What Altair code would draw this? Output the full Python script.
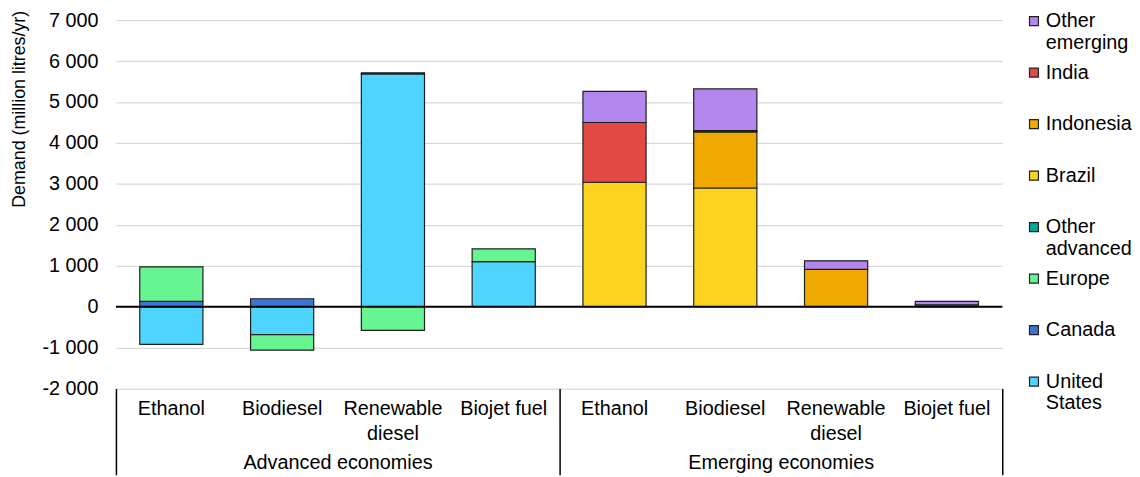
import altair as alt
import pandas as pd

FONT = "Liberation Sans"

groups = ["Advanced economies", "Emerging economies"]
fuels = ["Ethanol", "Biodiesel", "Renewable diesel", "Biojet fuel"]
fuel_labels = ["Ethanol", "Biodiesel", "Renewable\ndiesel", "Biojet fuel"]
regions = ["United States", "Canada", "Europe", "Other advanced",
           "Brazil", "Indonesia", "India", "Other emerging"]
colors = ["#4DD4FF", "#3B74D3", "#66F591", "#00A89B",
          "#FCD420", "#F0A900", "#E34A45", "#B388EE"]

# values in million litres/yr; order: Advanced (4 fuels), then Emerging (4 fuels)
united_states = [-920, -680, 5690, 1100, 0, 0, 0, 0]
canada = [130, 195, 25, 0, 0, 0, 0, 0]
europe = [845, -380, -580, 315, 0, 0, 0, 0]
other_advanced = [0, 0, 0, 0, 0, 0, 0, 0]
brazil = [0, 0, 0, 0, 3040, 2900, 0, 0]
indonesia = [0, 0, 0, 0, 0, 1370, 910, 45]
india = [0, 0, 0, 0, 1460, 30, 0, 0]
other_emerging = [0, 0, 0, 0, 760, 1020, 210, 85]

series = [united_states, canada, europe, other_advanced,
          brazil, indonesia, india, other_emerging]

rows = []
for ri, (reg, vals) in enumerate(zip(regions, series)):
    for k, v in enumerate(vals):
        rows.append({"group": groups[k // 4], "fuel": fuels[k % 4],
                     "region": reg, "order": ri, "value": v})
df = pd.DataFrame(rows)

lab_rows = []
for g in groups:
    for f, fl in zip(fuels, fuel_labels):
        lab_rows.append({"group": g, "fuel": f, "label": fl})
labels_df = pd.DataFrame(lab_rows)

W, H = 895, 372

def fmt_expr():
    return ("datum.value < 0 ? '-' + replace(format(-datum.value, ','), ',', ' ')"
            " : replace(format(datum.value, ','), ',', ' ')")

x_enc = alt.X("group:N", sort=groups,
              scale=alt.Scale(paddingInner=0, paddingOuter=0),
              axis=alt.Axis(title=None, tickBand="extent", tickSize=87,
                            tickColor="black", tickWidth=1.5, domain=False,
                            grid=False, labelPadding=-22, labelBaseline="top",
                            labelFontSize=20, labelColor="black", labelAngle=0,
                            labelFont=FONT, labelLimit=400))
xo_enc = alt.XOffset("fuel:N", sort=fuels,
                     scale=alt.Scale(paddingInner=0.43, paddingOuter=0.215))

bars = alt.Chart(df).transform_filter("datum.value != 0").mark_bar(
    stroke="#1f1f1f", strokeWidth=1.2
).encode(
    x=x_enc,
    xOffset=xo_enc,
    y=alt.Y("value:Q", stack="zero",
            scale=alt.Scale(domain=[-2000, 7000], nice=False),
            axis=alt.Axis(values=list(range(-2000, 7001, 1000)),
                          labelExpr=fmt_expr(), title="Demand (million litres/yr)",
                          domain=False, ticks=False, labelPadding=18,
                          labelFontSize=20, labelColor="black", labelFont=FONT,
                          gridColor="#D9D9D9", gridWidth=1.3,
                          titleFontSize=18, titleFont=FONT, titleFontWeight="normal",
                          titleColor="black", titleX=-97, titleY=-10,
                          titleAlign="right", titleBaseline="middle", titleAngle=270)),
    color=alt.Color("region:N",
                    scale=alt.Scale(domain=regions[::-1], range=colors[::-1]),
                    legend=alt.Legend(title=None, orient="none",
                                      legendX=W + 22, legendY=-9,
                                      symbolType="square", symbolSize=81,
                                      symbolStrokeColor="#222222", symbolStrokeWidth=1.2,
                                      labelFontSize=20, labelFont=FONT,
                                      labelColor="black", labelOffset=2,
                                      labelLimit=200, rowPadding=10,
                                      gridAlign="all", padding=0,
                                      labelExpr="indexof(datum.label, ' ') > 0 ? split(datum.label, ' ') : datum.label")),
    order=alt.Order("order:Q"),
)

cat_text = alt.Chart(labels_df).mark_text(
    baseline="top", fontSize=20, font=FONT, color="black",
    lineBreak="\n", lineHeight=25
).encode(
    x=alt.X("group:N", sort=groups),
    xOffset=alt.XOffset("fuel:N", sort=fuels),
    text="label:N",
    y=alt.value(H + 11),
)

zero = alt.Chart(pd.DataFrame({"v": [0]})).mark_rule(
    color="black", strokeWidth=2
).encode(y="v:Q")

chart = alt.layer(bars, cat_text, zero).properties(
    width=W, height=H, padding={"left": 3, "top": 0, "right": 0, "bottom": 0}
).configure(font=FONT).configure_view(stroke=None)

chart.save("out.html", embed_options={"renderer": "svg", "actions": False})
